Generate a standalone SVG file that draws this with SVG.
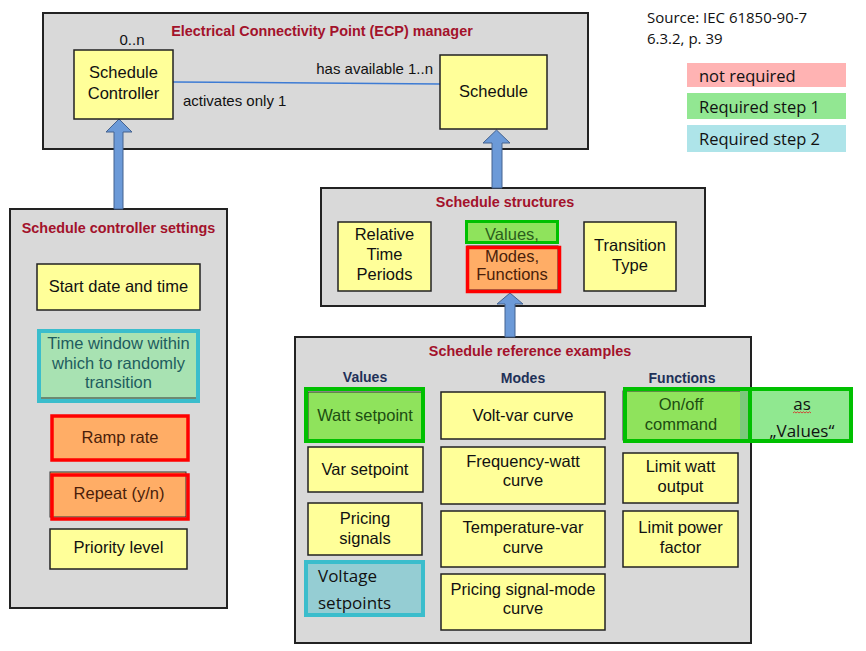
<svg xmlns="http://www.w3.org/2000/svg" width="866" height="651" viewBox="0 0 866 651">
<style>
.panel{fill:#d9d9d9;stroke:#222;stroke-width:2}
.yb{fill:#ffff99;stroke:#222;stroke-width:1.5}
.ob{fill:#ffad66;stroke:#333;stroke-width:1}
.gb{fill:#8fe35c;stroke:#333;stroke-width:1}
.redb{fill:none;stroke:#ff0000;stroke-width:3.5}
.grnb{fill:none;stroke:#00c000;stroke-width:4}
.cyb{stroke:#3bbdcc;stroke-width:4}
.t{font-family:"Liberation Sans",Arial,sans-serif;font-size:16.5px;fill:#111;text-anchor:middle}
.lbl{font-family:"Liberation Sans",Arial,sans-serif;font-size:15px;fill:#111}
.ttl{font-family:"Liberation Sans",Arial,sans-serif;font-size:14.4px;font-weight:bold;fill:#a3122b;text-anchor:middle}
.hdr{font-family:"Liberation Sans",Arial,sans-serif;font-size:14px;font-weight:bold;fill:#1f3158;text-anchor:middle}
.seg{font-family:"Open Sans","Noto Sans",sans-serif;fill:#111}
.arrow{fill:#6c9ad8;stroke:#44628f;stroke-width:1}
</style>

<g id="ecp-manager">
<rect class="panel" x="43" y="13" width="545" height="136"/>
<text class="ttl" x="322" y="36">Electrical Connectivity Point (ECP) manager</text>
</g>
<g id="settings-panel">
<rect class="panel" x="10" y="209" width="217" height="399"/>
<text class="ttl" x="118.5" y="233">Schedule controller settings</text>
</g>
<g id="structures-panel">
<rect class="panel" x="321" y="188" width="384" height="118"/>
<text class="ttl" x="505" y="207">Schedule structures</text>
</g>
<g id="examples-panel">
<rect class="panel" x="295" y="337" width="456" height="306"/>
<text class="ttl" x="530" y="356">Schedule reference examples</text>
<text class="hdr" x="365" y="382">Values</text>
<text class="hdr" x="523" y="383">Modes</text>
<text class="hdr" x="682" y="383">Functions</text>
</g>

<g id="connectors">
<line x1="173" y1="82" x2="440" y2="84" stroke="#3d7bd4" stroke-width="1.5"/>
<text class="lbl" x="132" y="45" text-anchor="middle">0..n</text>
<text class="lbl" x="433" y="74" text-anchor="end">has available 1..n</text>
<text class="lbl" x="183" y="106">activates only 1</text>
<path class="arrow" d="M114,209 L114,132 L106,132 L119,119 L132,132 L123,132 L123,209 Z"/>
<path class="arrow" d="M492,188 L492,143 L483,143 L496.5,130 L510,143 L502,143 L502,188 Z"/>
<path class="arrow" d="M505,337 L505,304 L497,304 L510,293 L523,304 L515,304 L515,337 Z"/>
</g>

<g id="schedule-controller">
<rect class="yb" x="74" y="50" width="99" height="69"/>
<text class="t" x="123.5" y="78">Schedule</text>
<text class="t" x="123.5" y="99">Controller</text>
</g>
<g id="schedule">
<rect class="yb" x="440" y="55" width="107" height="74"/>
<text class="t" x="493.5" y="97">Schedule</text>
</g>

<g id="start-date">
<rect class="yb" x="37" y="264" width="163" height="46"/>
<text class="t" x="118.5" y="292">Start date and time</text>
</g>
<g id="time-window">
<rect class="cyb" x="39" y="331" width="159" height="70" fill="#a8e2b2"/>
<line x1="41" y1="398" x2="196" y2="398" stroke="#333" stroke-width="1"/>
<text class="t" x="118.5" y="349" style="fill:#1e5c5e">Time window within</text>
<text class="t" x="118.5" y="369" style="fill:#1e5c5e">which to randomly</text>
<text class="t" x="118.5" y="388" style="fill:#1e5c5e">transition</text>
</g>
<g id="ramp-rate">
<rect x="52" y="416" width="136" height="44" fill="#ffad66"/>
<rect class="redb" x="52" y="416" width="136" height="44"/>
<text class="t" x="120" y="443" style="fill:#4a1e0a">Ramp rate</text>
</g>
<g id="repeat">
<rect class="ob" x="50" y="472" width="136" height="45"/>
<rect class="redb" x="52" y="475" width="136" height="44"/>
<text class="t" x="119" y="499" style="fill:#4a1e0a">Repeat (y/n)</text>
</g>
<g id="priority-level">
<rect class="yb" x="50" y="529" width="137" height="40"/>
<text class="t" x="118.5" y="553">Priority level</text>
</g>

<g id="relative-time-periods">
<rect class="yb" x="338" y="222" width="93" height="69"/>
<text class="t" x="384.5" y="240">Relative</text>
<text class="t" x="384.5" y="260">Time</text>
<text class="t" x="384.5" y="280">Periods</text>
</g>
<g id="values-modes-functions">
<rect x="466.5" y="221.5" width="91" height="21" fill="#8fe35c" stroke="#00c000" stroke-width="3"/>
<rect class="ob" x="467" y="246" width="91" height="44"/>
<rect class="redb" x="467.5" y="247.5" width="92" height="44"/>
<text class="t" x="512" y="240" style="fill:#2b5e1c">Values,</text>
<text class="t" x="512" y="262" style="fill:#4a1e0a">Modes,</text>
<text class="t" x="512" y="280" style="fill:#4a1e0a">Functions</text>
</g>
<g id="transition-type">
<rect class="yb" x="584" y="222" width="92" height="69"/>
<text class="t" x="630" y="251">Transition</text>
<text class="t" x="630" y="271">Type</text>
</g>

<g id="watt-setpoint">
<rect class="gb" x="308" y="392" width="114" height="48"/>
<rect class="grnb" x="306" y="389" width="117" height="52"/>
<text class="t" x="365" y="421" style="fill:#1d4d12">Watt setpoint</text>
</g>
<g id="var-setpoint">
<rect class="yb" x="308" y="447" width="115" height="45"/>
<text class="t" x="365" y="475">Var setpoint</text>
</g>
<g id="pricing-signals">
<rect class="yb" x="308" y="503" width="114" height="52"/>
<text class="t" x="365" y="524">Pricing</text>
<text class="t" x="365" y="544">signals</text>
</g>
<g id="voltage-setpoints">
<rect class="cyb" x="306" y="562" width="117" height="53" fill="#95cdd3"/>
<text class="seg" x="318" y="582" font-size="17">Voltage</text>
<text class="seg" x="318" y="609" font-size="17">setpoints</text>
</g>

<g id="volt-var">
<rect class="yb" x="441" y="392" width="164" height="47"/>
<text class="t" x="523" y="421">Volt-var curve</text>
</g>
<g id="frequency-watt">
<rect class="yb" x="441" y="447" width="164" height="57"/>
<text class="t" x="523" y="467">Frequency-watt</text>
<text class="t" x="523" y="486">curve</text>
</g>
<g id="temperature-var">
<rect class="yb" x="441" y="511" width="164" height="56"/>
<text class="t" x="523" y="533">Temperature-var</text>
<text class="t" x="523" y="553">curve</text>
</g>
<g id="pricing-signal-mode">
<rect class="yb" x="441" y="574" width="164" height="56"/>
<text class="t" x="523" y="595">Pricing signal-mode</text>
<text class="t" x="523" y="614">curve</text>
</g>

<g id="on-off-command">
<rect class="gb" x="623" y="391" width="125" height="49" fill="#8ee65a"/>
<rect x="740" y="391" width="9" height="49" fill="#7cc97a"/>
<text class="t" x="681" y="410" style="fill:#1d4d12">On/off</text>
<text class="t" x="681" y="430" style="fill:#1d4d12">command</text>
</g>
<g id="as-values">
<rect x="750" y="389" width="101" height="52" fill="#90e890"/>
<rect class="grnb" x="625" y="389" width="226" height="52"/>
<line x1="750" y1="389" x2="750" y2="441" stroke="#00c000" stroke-width="4"/>
<text class="seg" x="802" y="410" font-size="17" text-anchor="middle">as</text>
<path d="M793,413 l1.5,-1.2 l1.5,1.2 l1.5,-1.2 l1.5,1.2 l1.5,-1.2 l1.5,1.2 l1.5,-1.2 l1.5,1.2 l1.5,-1.2 l1.5,1.2 l1.5,-1.2 l1.5,1.2" fill="none" stroke="#e02020" stroke-width="0.8"/>
<text class="seg" x="802" y="437" font-size="17" text-anchor="middle">„Values“</text>
</g>
<g id="limit-watt">
<rect class="yb" x="623" y="453" width="115" height="50"/>
<text class="t" x="680.5" y="472">Limit watt</text>
<text class="t" x="680.5" y="492">output</text>
</g>
<g id="limit-power-factor">
<rect class="yb" x="623" y="511" width="115" height="56"/>
<text class="t" x="680.5" y="533">Limit power</text>
<text class="t" x="680.5" y="553">factor</text>
</g>

<g id="source">
<text class="seg" x="647" y="23" font-size="15">Source: IEC 61850-90-7</text>
<text class="seg" x="647" y="44" font-size="15">6.3.2, p. 39</text>
</g>
<g id="legend">
<rect x="687" y="63" width="159" height="24" fill="#ffb3b3"/>
<text class="seg" x="699" y="82" font-size="16.5">not required</text>
<rect x="687" y="93" width="159" height="26" fill="#92e792"/>
<text class="seg" x="699" y="113" font-size="16.5">Required step 1</text>
<rect x="687" y="125" width="159" height="27" fill="#aee4e9"/>
<text class="seg" x="699" y="145" font-size="16.5">Required step 2</text>
</g>
</svg>
